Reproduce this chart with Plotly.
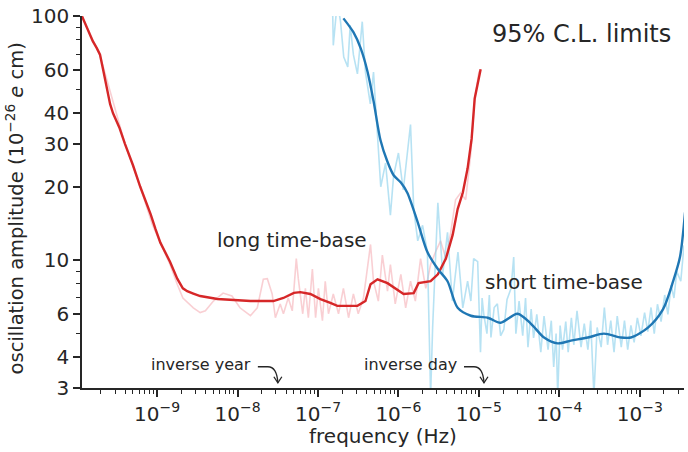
import numpy as np
import plotly.graph_objects as go

# ---- data (log10 frequency in Hz, amplitude in 1e-26 e cm) ----
red_smooth_logf = [-9.934, -9.90, -9.85, -9.80, -9.75, -9.71, -9.67, -9.62, -9.585, -9.548, -9.47, -9.40,
                   -9.30, -9.21, -9.14, -9.08, -9.02, -8.96, -8.84, -8.75, -8.68, -8.626, -8.55, -8.465,
                   -8.25, -8.05, -7.84, -7.555, -7.43, -7.30, -7.22, -7.095,
                   -6.97, -6.846, -6.76, -6.51, -6.41, -6.347, -6.26, -6.136, -6.03, -5.936, -5.81, -5.75,
                   -5.60, -5.51, -5.41, -5.326, -5.264, -5.20, -5.14, -5.09, -5.052, -5.027, -4.978]
red_smooth_amp = [100, 94, 86, 79, 74, 69.6, 60, 50, 43.7, 40, 35, 30,
                  24.5, 20, 17.4, 15.4, 13.4, 11.8, 9.86, 8.4, 7.67, 7.46, 7.3, 7.13,
                  6.93, 6.86, 6.8, 6.8, 7.0, 7.35, 7.4, 7.27,
                  6.93, 6.68, 6.5, 6.5, 6.8, 7.97, 8.35, 8.05, 7.6, 7.27, 7.33, 8.05,
                  8.2, 8.75, 10.15, 12.7, 16.2, 18.9, 23.8, 31.5, 46, 50.2, 60.6]

red_raw_logf = [-9.934, -9.71, -9.40, -9.21, -9.06, -8.95, -8.84, -8.75, -8.68, -8.55, -8.465, -8.40,
                -8.30, -8.18, -8.07, -7.97, -7.84, -7.755, -7.68, -7.63, -7.57, -7.53, -7.47, -7.43,
                -7.37, -7.32, -7.27, -7.245, -7.19, -7.157, -7.12, -7.07, -7.03, -6.995, -6.945, -6.91,
                -6.87, -6.81, -6.745, -6.684, -6.62, -6.56, -6.50, -6.435, -6.347, -6.31, -6.25, -6.20,
                -6.136, -6.10, -6.04, -5.97, -5.91, -5.85, -5.79, -5.725, -5.66, -5.60, -5.54, -5.476,
                -5.41, -5.35, -5.29, -5.227, -5.164, -5.10, -5.052, -5.0, -4.978]
red_raw_amp = [100, 69, 30, 20, 14, 11.5, 9.6, 7.97, 7.0, 6.38, 6.1, 6.2,
               6.8, 7.33, 7.13, 6.38, 5.92, 6.38, 8.35, 8.4, 7.27, 5.81, 6.62, 6.03,
               7.0, 6.2, 10.15, 8.4, 6.03, 7.67, 5.81, 9.2, 5.81, 7.67, 5.65, 8.2,
               6.03, 7.27, 6.03, 7.67, 5.81, 7.27, 6.03, 7.0, 11.6, 8.2, 6.8, 10.5,
               7.46, 9.6, 6.62, 8.75, 6.38, 8.2, 6.8, 10.15, 7.67, 9.6, 10.8, 12.0,
               10.15, 13.0, 17.7, 18.9, 17.7, 27.5, 46, 59, 60.6]

blue_smooth_logf = [-6.684, -6.56, -6.47, -6.385, -6.31, -6.223, -6.14, -6.06, -5.97, -5.89, -5.76,
                    -5.64, -5.51, -5.39, -5.264, -5.10, -4.89, -4.73, -4.52, -4.355, -4.19, -4.02,
                    -3.857, -3.645, -3.446, -3.234, -3.11, -2.898, -2.71, -2.585, -2.50, -2.437]
blue_smooth_amp = [98, 86, 74, 59.4, 45, 31, 25.5, 22.3, 20.8, 18.9, 14.3,
                   10.8, 9.2, 8.2, 6.38, 5.92, 5.81, 5.54, 6.03, 5.5, 4.82, 4.56,
                   4.68, 4.82, 5.0, 4.82, 4.82, 5.29, 6.3, 8.2, 10.3, 15.7]

blue_raw_logf = [-6.82, -6.81, -6.76, -6.72, -6.68, -6.63, -6.60, -6.56, -6.51, -6.45, -6.41, -6.35,
                 -6.31, -6.26, -6.22, -6.16, -6.10, -6.06, -6.00, -5.94, -5.875, -5.85, -5.81, -5.76,
                 -5.70, -5.64, -5.60, -5.575, -5.51, -5.45, -5.39, -5.33, -5.26, -5.20, -5.14, -5.10,
                 -5.065, -5.015, -4.98, -4.96, -4.94, -4.90, -4.87, -4.85, -4.81, -4.77, -4.73, -4.69,
                 -4.65, -4.60, -4.567, -4.54, -4.50, -4.455, -4.42, -4.39, -4.35, -4.32, -4.28, -4.23,
                 -4.19, -4.14, -4.10, -4.07, -4.04, -4.02, -3.99, -3.96, -3.92, -3.89, -3.85, -3.82,
                 -3.78, -3.73, -3.69, -3.645, -3.61, -3.57, -3.53, -3.48, -3.44, -3.40, -3.36, -3.32,
                 -3.28, -3.23, -3.19, -3.15, -3.11, -3.07, -3.03, -2.985, -2.94, -2.90, -2.86, -2.82,
                 -2.78, -2.735, -2.69, -2.65, -2.61, -2.575, -2.54, -2.49, -2.45]
blue_raw_amp = [115, 76, 115, 95, 68, 62, 92, 69.6, 58, 95, 59, 43.7,
                59, 32, 20, 25, 15.3, 22.2, 27.5, 19.4, 30, 36, 16.2, 12,
                13.9, 10.8, 2.8, 5.29, 17.2, 8.75, 13, 6.8, 10.8, 6.38, 8.2, 6.8,
                10.15, 9.86, 4.2, 7.0, 6.03, 5.0, 7.2, 4.82, 6.4, 6.62, 4.9, 5.2,
                6.9, 7.67, 10.3, 5.0, 6.8, 4.9, 7.0, 4.4, 6.3, 4.8, 6.0, 4.2,
                5.9, 4.3, 5.65, 3.65, 5.0, 2.8, 5.4, 4.3, 5.6, 4.2, 5.81, 4.5,
                6.2, 4.4, 5.5, 4.3, 5.65, 2.8, 5.3, 4.4, 6.4, 4.5, 5.65, 4.2,
                5.9, 4.4, 5.65, 4.3, 5.4, 4.6, 5.8, 4.9, 6.1, 5.1, 6.4, 5.0,
                6.6, 5.6, 7.2, 6.0, 7.9, 7.0, 9.0, 8.2, 11.5]

y_tick_vals = [3, 4, 6, 10, 20, 30, 40, 60, 100]
y_minor_vals = [5, 7, 8, 9, 50, 70, 80, 90]
x_tick_exps = [-9, -8, -7, -6, -5, -4, -3]

SECONDS_PER_YEAR = 365.25 * 86400
SECONDS_PER_DAY = 86400.0

INK = "#262626"
FONT = "DejaVu Sans"

X_RANGE = [-9.934, -2.45]
Y_RANGE = [np.log10(3) - 0.001, 2.001]

def freq(logs):
    return [10 ** v for v in logs]

fig = go.Figure()
fig.add_trace(go.Scatter(x=freq(red_raw_logf), y=red_raw_amp, mode="lines",
                         line=dict(color="rgba(240,140,150,0.42)", width=1.6), hoverinfo="skip",
                         showlegend=False))
fig.add_trace(go.Scatter(x=freq(blue_raw_logf), y=blue_raw_amp, mode="lines",
                         line=dict(color="rgba(135,206,235,0.6)", width=1.6), hoverinfo="skip",
                         showlegend=False))
fig.add_trace(go.Scatter(x=freq(red_smooth_logf), y=red_smooth_amp, mode="lines",
                         line=dict(color="#d62728", width=2.4),
                         showlegend=False))
fig.add_trace(go.Scatter(x=freq(blue_smooth_logf), y=blue_smooth_amp, mode="lines",
                         line=dict(color="#1f77b4", width=2.4, shape="spline", smoothing=0.8),
                         showlegend=False))

W, H = 688, 452
L, R, T, B = 82, 4, 11, 64
pw, ph = W - L - R, H - T - B

x_minor = [m * 10 ** e for e in range(-10, -2) for m in range(2, 10)
           if X_RANGE[0] <= np.log10(m * 10 ** e) <= X_RANGE[1]]

fig.update_xaxes(type="log", range=X_RANGE, showline=True, linecolor=INK, linewidth=1.5,
                 showgrid=False, zeroline=False, ticks="outside", ticklen=7, tickwidth=1.6,
                 tickcolor=INK, tickmode="array",
                 tickvals=[10 ** e for e in x_tick_exps],
                 ticktext=["10<sup>\u2212%d</sup>" % (-e) for e in x_tick_exps],
                 tickfont=dict(family=FONT, size=20, color=INK), ticklabeloverflow="allow",
                 minor=dict(tickmode="array", tickvals=x_minor, ticks="outside", ticklen=4,
                            tickwidth=1.2, tickcolor=INK, showgrid=False))
fig.update_yaxes(type="log", range=Y_RANGE, showline=True, linecolor=INK,
                 linewidth=1.5, showgrid=False, zeroline=False, ticks="outside", ticklen=7,
                 tickwidth=1.6, tickcolor=INK, tickmode="array", tickvals=y_tick_vals,
                 ticktext=[str(v) for v in y_tick_vals],
                 tickfont=dict(family=FONT, size=20, color=INK), ticklabeloverflow="allow",
                 minor=dict(tickmode="array", tickvals=y_minor_vals, ticks="outside", ticklen=4,
                            tickwidth=1.2, tickcolor=INK, showgrid=False))

def px(xp):
    return (xp - L) / pw

def py(yp):
    return (H - B - yp) / ph

annos = [
    dict(text="95% C.L. limits", x=px(581), y=py(29), size=24),
    dict(text="long time-base", x=px(292), y=py(238), size=20),
    dict(text="short time-base", x=px(564), y=py(281), size=20),
    dict(text="frequency (Hz)", x=px(383), y=py(437), size=20),
]
for a in annos:
    fig.add_annotation(text=a["text"], x=a["x"], y=a["y"], xref="paper", yref="paper",
                       showarrow=False, xanchor="center", yanchor="middle",
                       font=dict(family=FONT, size=a["size"], color=INK))

fig.add_annotation(text="oscillation amplitude (10<sup>\u221226</sup> <i>e</i> cm)",
                   x=px(15), y=py(206), xref="paper", yref="paper", textangle=-90,
                   showarrow=False, xanchor="center", yanchor="middle",
                   font=dict(family=FONT, size=19.5, color=INK))

for label, f in [("inverse year", 1 / SECONDS_PER_YEAR), ("inverse day", 1 / SECONDS_PER_DAY)]:
    fig.add_annotation(text=label, x=np.log10(f), y=np.log10(3), xref="x", yref="y",
                       showarrow=False, xanchor="right", yanchor="middle", xshift=-25, yshift=23,
                       font=dict(family=FONT, size=16, color=INK))
    fig.add_shape(type="path", xref="x", yref="y", xsizemode="pixel", ysizemode="pixel",
                  xanchor=f, yanchor=3,
                  path="M -20 21 L -10 21 Q -1 21 0 5",
                  line=dict(color=INK, width=1.3))
    fig.add_shape(type="path", xref="x", yref="y", xsizemode="pixel", ysizemode="pixel",
                  xanchor=f, yanchor=3,
                  path="M -4 11 L 0 5 L 4 11",
                  line=dict(color=INK, width=1.3))

fig.update_layout(width=W, height=H, margin=dict(l=L, r=R, t=T, b=B),
                  plot_bgcolor="white", paper_bgcolor="white",
                  font=dict(family=FONT, color=INK))

fig.write_html("out.html")
